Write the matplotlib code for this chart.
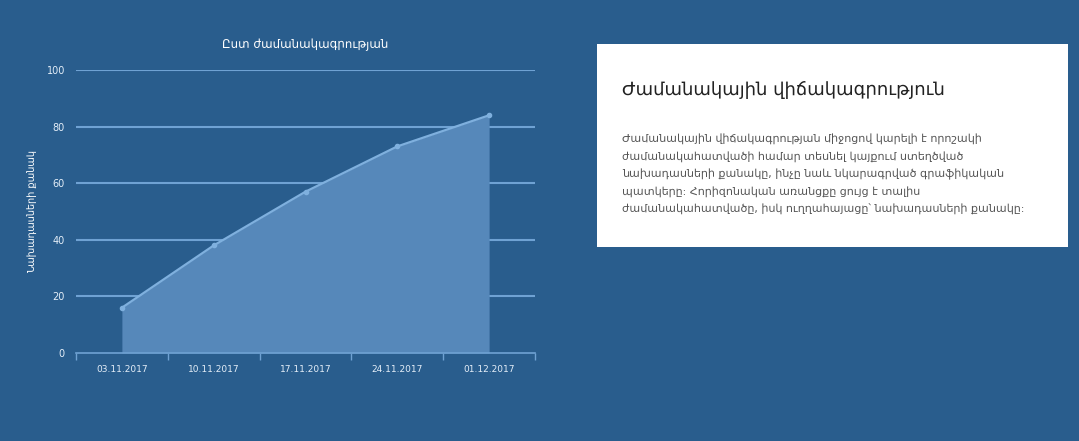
import numpy as np
import matplotlib.pyplot as plt
from matplotlib.patches import Rectangle

# données
dates = ["03.11.2017", "10.11.2017", "17.11.2017", "24.11.2017", "01.12.2017"]
counts = [16, 38, 57, 73, 84]
y_ticks = [0, 20, 40, 60, 80, 100]

chart_title = "Ըստ ժամանակագրության"
y_label = "Նախադասների քանակ"
box_title = "Ժամանակային վիճակագրություն"
box_lines = [
    "Ժամանակային վիճակագրության միջոցով կարելի է որոշակի",
    "ժամանակահատվածի համար տեսնել կայքում ստեղծված",
    "նախադասների քանակը, ինչը նաև նկարագրված գրաֆիկական",
    "պատկերը: Հորիզոնական առանցքը ցույց է տալիս",
    "ժամանակահատվածը, իսկ ուղղահայացը՝ նախադասների քանակը:",
]

bg = "#295d8d"
fill_col = "#5688ba"
line_col = "#7fb0de"
grid_col = "#6fa2d3"
txt_col = "#e4eef8"

plt.rcParams["font.family"] = ["DejaVu Sans"]

fig = plt.figure(figsize=(10.79, 4.41), dpi=100, facecolor=bg)
W, H = 1079, 441

# zone du graphique (pixels -> coordonnées figure)
x0, x1, ytop, ybot = 76, 535, 70, 353
ax = fig.add_axes([x0 / W, 1 - ybot / H, (x1 - x0) / W, (ybot - ytop) / H])
ax.set_facecolor(bg)

x = np.arange(len(dates))
ax.fill_between(x, 0, counts, color=fill_col, lw=0, zorder=2)
ax.plot(x, counts, color=line_col, lw=1.6, marker="o", ms=3, zorder=3)
for v in y_ticks[1:]:
    ax.axhline(v, color=grid_col, lw=1.5, zorder=1)

ax.set_xlim(-0.5, len(dates) - 0.5)
ax.set_ylim(0, 100)
ax.set_yticks(y_ticks)
ax.set_yticklabels([str(v) for v in y_ticks], color=txt_col, fontsize=7)
ax.set_xticks(x)
ax.set_xticklabels(dates, color=txt_col, fontsize=6.5)
ax.set_xticks(np.arange(-0.5, len(dates)), minor=True)
ax.tick_params(axis="x", which="major", length=0, pad=9)
ax.tick_params(axis="x", which="minor", length=5, color=grid_col, width=1)
ax.tick_params(axis="y", length=0, pad=8)
for s in ["top", "right", "left"]:
    ax.spines[s].set_visible(False)
ax.spines["bottom"].set_color(grid_col)
ax.spines["bottom"].set_linewidth(1.2)

ax.set_title(chart_title, color="white", fontsize=8.5, pad=16)
ax.set_ylabel(y_label, color="white", fontsize=7, labelpad=6)

# encadré de texte
fig.patches.append(Rectangle((597 / W, 1 - 247 / H), 471 / W, 203 / H,
                             transform=fig.transFigure, facecolor="white",
                             edgecolor="none", zorder=0))
fig.text(622 / W, 1 - 90 / H, box_title, fontsize=13, color="#222222", va="center")
for i, line in enumerate(box_lines):
    fig.text(622 / W, 1 - (139 + i * 17.5) / H, line, fontsize=8,
             color="#555555", va="center")

fig.savefig("out.png", dpi=100, facecolor=bg)
